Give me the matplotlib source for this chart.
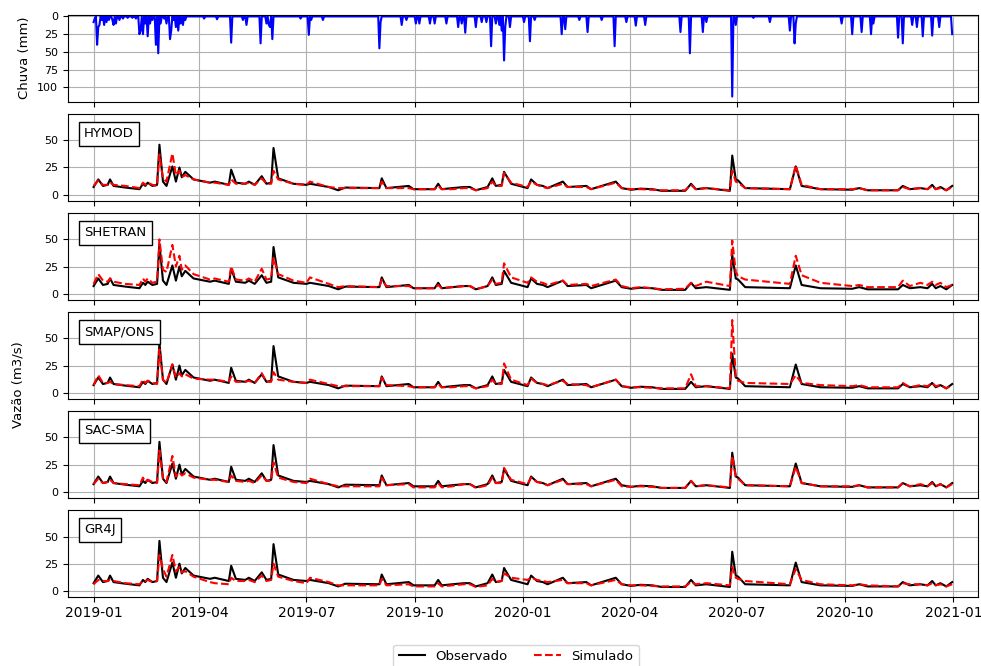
import matplotlib
matplotlib.use("Agg")
import matplotlib.pyplot as plt
import pandas as pd

# ---- chuva diaria (mm): dias com chuva, o resto e zero ----
rain_dates = [
    "2019-01-01", "2019-01-02", "2019-01-04", "2019-01-05", "2019-01-06", "2019-01-08",
    "2019-01-10", "2019-01-12", "2019-01-14", "2019-01-17", "2019-01-18", "2019-01-20",
    "2019-01-23", "2019-01-26", "2019-01-30", "2019-02-03", "2019-02-06", "2019-02-09",
    "2019-02-10", "2019-02-12", "2019-02-14", "2019-02-16", "2019-02-18", "2019-02-20",
    "2019-02-23", "2019-02-25", "2019-02-27", "2019-03-02", "2019-03-04", "2019-03-07",
    "2019-03-08", "2019-03-10", "2019-03-12", "2019-03-14", "2019-03-16", "2019-03-18",
    "2019-03-20", "2019-04-05", "2019-04-16", "2019-04-28", "2019-05-08", "2019-05-11",
    "2019-05-23", "2019-05-28", "2019-05-30", "2019-05-31", "2019-06-02", "2019-06-26",
    "2019-07-03", "2019-07-05", "2019-07-15", "2019-09-01", "2019-09-02", "2019-09-20",
    "2019-09-24", "2019-10-02", "2019-10-05", "2019-10-14", "2019-10-18", "2019-10-28",
    "2019-11-07", "2019-11-10", "2019-11-13", "2019-11-22", "2019-11-27", "2019-12-01",
    "2019-12-05", "2019-12-09", "2019-12-12", "2019-12-14", "2019-12-16", "2019-12-17",
    "2019-12-21", "2020-01-02", "2020-01-07", "2020-01-11", "2020-02-03", "2020-02-06",
    "2020-02-18", "2020-02-25", "2020-03-08", "2020-03-19", "2020-03-29", "2020-04-06",
    "2020-04-14", "2020-05-14", "2020-05-22", "2020-06-02", "2020-06-05", "2020-06-27",
    "2020-06-30", "2020-07-15", "2020-07-29", "2020-08-15", "2020-08-19", "2020-08-20",
    "2020-09-28", "2020-10-07", "2020-10-15", "2020-10-23", "2020-10-25", "2020-11-15",
    "2020-11-19", "2020-11-27", "2020-12-01", "2020-12-06", "2020-12-14", "2020-12-20",
    "2020-12-31",
]
rain_mm = [
    8, 3, 40, 15, 12, 5,
    12, 8, 5, 5, 12, 10,
    5, 3, 2, 2, 3, 25,
    20, 25, 10, 28, 10, 5,
    40, 52, 10, 3, 10, 32,
    20, 5, 15, 20, 10, 12,
    5, 3, 4, 37, 5, 12,
    38, 10, 12, 15, 32, 3,
    26, 5, 5, 45, 8, 12,
    5, 10, 10, 10, 10, 10,
    15, 10, 23, 15, 8, 8,
    42, 10, 12, 20, 62, 15,
    15, 8, 35, 5, 25, 18,
    5, 22, 5, 42, 8, 13,
    12, 22, 52, 22, 8, 113,
    12, 2, 8, 20, 38, 10,
    10, 25, 22, 25, 10, 30,
    38, 12, 15, 28, 27, 15,
    25,
]

# ---- vazao (m3/s) em datas-chave ----
flow_dates = [
    "2019-01-01", "2019-01-05", "2019-01-09", "2019-01-13", "2019-01-15", "2019-01-18",
    "2019-01-28", "2019-02-09", "2019-02-12", "2019-02-14", "2019-02-16", "2019-02-20",
    "2019-02-24", "2019-02-26", "2019-03-01", "2019-03-04", "2019-03-09", "2019-03-12",
    "2019-03-15", "2019-03-17", "2019-03-20", "2019-03-27", "2019-04-10", "2019-04-14",
    "2019-04-26", "2019-04-28", "2019-05-02", "2019-05-10", "2019-05-13", "2019-05-18",
    "2019-05-24", "2019-05-28", "2019-06-01", "2019-06-03", "2019-06-07", "2019-06-20",
    "2019-07-01", "2019-07-04", "2019-07-20", "2019-07-28", "2019-08-03", "2019-09-01",
    "2019-09-03", "2019-09-07", "2019-09-26", "2019-09-30", "2019-10-18", "2019-10-21",
    "2019-10-24", "2019-11-02", "2019-11-12", "2019-11-17", "2019-11-22", "2019-12-02",
    "2019-12-06", "2019-12-09", "2019-12-14", "2019-12-16", "2019-12-22", "2020-01-05",
    "2020-01-08", "2020-01-13", "2020-01-18", "2020-01-22", "2020-02-04", "2020-02-08",
    "2020-02-24", "2020-02-28", "2020-03-20", "2020-03-25", "2020-04-02", "2020-04-10",
    "2020-04-20", "2020-04-28", "2020-05-18", "2020-05-23", "2020-05-27", "2020-06-05",
    "2020-06-25", "2020-06-27", "2020-06-30", "2020-07-02", "2020-07-08", "2020-08-15",
    "2020-08-20", "2020-08-25", "2020-09-10", "2020-10-07", "2020-10-13", "2020-10-20",
    "2020-11-15", "2020-11-19", "2020-11-25", "2020-12-04", "2020-12-10", "2020-12-14",
    "2020-12-17", "2020-12-21", "2020-12-26", "2020-12-31",
]
obs = [
    7, 14, 8, 9, 14, 8, 6.5, 5, 10, 8, 11, 8, 9, 46, 12, 8, 26, 12, 25, 16,
    21, 14, 11, 12, 9, 23, 11, 10, 12, 9, 17, 10, 11, 43, 15, 10, 9, 10, 7, 4,
    6.5, 6, 15, 6, 8, 5, 5, 10, 5, 6, 7, 7, 4, 7, 15, 8, 9, 21, 10, 6,
    14, 9, 8, 6, 12, 7, 8, 5, 12, 6, 4.5, 5.5, 5, 3.5, 3.5, 10, 5, 6, 3.5, 36,
    14, 13, 6, 5, 26, 8, 5, 4.5, 6, 4, 4, 8, 5, 6, 5, 9, 5, 7, 4, 8,
]
sim_hymod = [
    8, 13, 9, 9, 11, 9, 8, 6, 11, 9, 11, 9, 8, 37, 15, 12, 38, 18, 22, 16,
    18, 14, 11, 11, 9, 14, 10, 10, 11, 9, 15, 10, 10, 22, 14, 10, 9, 12, 7, 6,
    6, 6, 12, 6, 6, 5, 5, 8, 5, 5, 6, 6, 4, 6, 12, 8, 8, 20, 11, 7,
    12, 9, 7, 6, 10, 7, 7, 5, 11, 6, 5, 5, 4.5, 4, 4, 9, 5, 6, 4, 22,
    12, 11, 6, 5, 27, 9, 5, 5, 6, 4, 4, 7, 5, 6, 5, 8, 5, 6, 4, 7,
]
sim_shetran = [
    9, 18, 12, 11, 14, 11, 9, 8, 14, 11, 14, 10, 11, 50, 22, 20, 45, 25, 35, 22,
    26, 18, 13, 14, 11, 25, 13, 12, 14, 11, 23, 13, 14, 33, 18, 12, 10, 15, 9, 6,
    7, 6, 13, 7, 7, 5, 5, 8, 5, 6, 7, 7, 4, 7, 13, 9, 10, 28, 15, 10,
    15, 11, 10, 8, 12, 8, 9, 7, 13, 7, 5, 6, 5, 4, 4.5, 10, 7, 11, 7, 49,
    20, 16, 13, 9, 35, 17, 10, 7, 8, 6, 6, 12, 7, 10, 8, 11, 8, 10, 6, 8,
]
sim_smap = [
    7, 16, 9, 9, 10, 8, 7, 6, 12, 9, 11, 9, 8, 40, 12, 9, 26, 14, 18, 15,
    17, 13, 12, 12, 10, 15, 10, 10, 11, 9, 18, 10, 10, 19, 12, 10, 9, 12, 8, 6,
    6, 6, 14, 7, 6, 5, 5, 8, 5, 5, 6, 6, 4, 6, 12, 8, 8, 27, 12, 7,
    13, 9, 8, 7, 11, 8, 7, 5, 12, 6, 5, 5, 4.5, 4, 4, 17, 6, 6, 4, 67,
    15, 11, 9, 8, 16, 9, 7, 6, 7, 5, 5, 9, 5, 7, 6, 9, 6, 7, 4, 7,
]
sim_sacsma = [
    7, 12, 8, 9, 11, 8, 7, 6, 13, 9, 11, 9, 8, 38, 12, 9, 33, 14, 18, 15,
    17, 13, 11, 11, 9, 15, 10, 9, 10, 8, 15, 10, 10, 27, 13, 9, 8, 12, 7, 5,
    5, 5, 13, 6, 7, 4, 4, 8, 4, 5, 7, 7, 3.5, 6, 13, 8, 8, 22, 11, 7,
    13, 9, 8, 6, 11, 7, 7, 5, 11, 5, 4.5, 5, 4.5, 3.5, 3.5, 10, 5, 6, 4, 33,
    14, 12, 6, 5, 23, 8, 5, 5, 6, 4, 4, 8, 5, 7, 5, 8, 5, 7, 4, 7,
]
sim_gr4j = [
    6, 10, 9, 9, 10, 9, 7, 6, 9, 9, 10, 8, 9, 33, 20, 13, 33, 18, 22, 17,
    18, 13, 8, 7, 6, 12, 9, 9, 10, 8, 14, 9, 10, 25, 13, 9, 7, 12, 8, 5,
    5, 5, 11, 5, 6, 4, 4, 7, 4, 5, 6, 6, 3.5, 5, 11, 8, 9, 16, 12, 10,
    12, 10, 9, 8, 10, 7, 7, 5, 10, 6, 5, 5, 4.5, 4, 4, 8, 6, 7, 5, 22,
    12, 11, 9, 6, 20, 10, 6, 5, 6, 5, 4, 7, 6, 6, 5, 7, 5, 6, 4, 6,
]
model_names = ["HYMOD", "SHETRAN", "SMAP/ONS", "SAC-SMA", "GR4J"]
model_sims = [sim_hymod, sim_shetran, sim_smap, sim_sacsma, sim_gr4j]

# serie diaria de chuva
days = pd.date_range("2019-01-01", "2020-12-31", freq="D")
rain = pd.Series(0.0, index=days)
rain[pd.to_datetime(rain_dates)] = rain_mm
qdates = pd.to_datetime(flow_dates)

fig, axes = plt.subplots(6, 1, figsize=(9.81, 6.66), dpi=100, sharex=True)
fig.subplots_adjust(left=0.069, right=0.997, top=0.978, bottom=0.104, hspace=0.14)

# ---- CHUVA ----
ax = axes[0]
ax.plot(rain.index, rain.values, color="blue", linewidth=1.5)
ax.set_ylim(120, -2.5)
ax.set_yticks([0, 25, 50, 75, 100])
ax.set_ylabel("Chuva (mm)", fontsize=9.5)
ax.grid(True)

# ---- VAZOES ----
for ax, name, sim in zip(axes[1:], model_names, model_sims):
    l_obs, = ax.plot(qdates, obs, color="black", linewidth=1.5, label="Observado")
    l_sim, = ax.plot(qdates, sim, color="red", linestyle="--", linewidth=1.5, label="Simulado")
    ax.set_ylim(-5.5, 74.6)
    ax.set_yticks([0, 25, 50])
    ax.grid(True)
    ax.text(0.018, 0.77, name, transform=ax.transAxes, va="center", fontsize=9.5,
            bbox=dict(facecolor="white", edgecolor="black"))

for ax in axes:
    ax.tick_params(axis="y", labelsize=8)
    ax.tick_params(axis="x", labelsize=10)
axes[-1].set_xlim(pd.Timestamp("2018-12-10"), pd.Timestamp("2021-01-22"))

fig.text(0.018, 0.423, "Vazão (m3/s)", rotation=90, va="center", ha="center", fontsize=9.5)
fig.legend([l_obs, l_sim], ["Observado", "Simulado"], loc="upper center",
           bbox_to_anchor=(0.526, 0.042), ncol=2, fontsize=9.5)

fig.savefig("out.png", dpi=100)
